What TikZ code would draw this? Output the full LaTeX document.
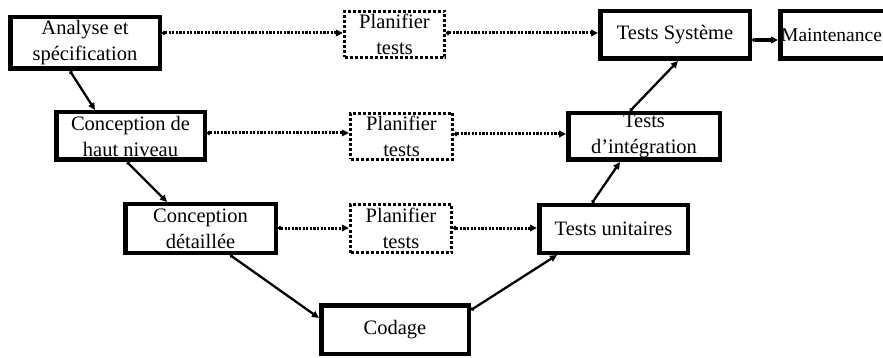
\documentclass[tikz,border=0pt]{standalone}
\usepackage{fontspec}
\setmainfont{Liberation Serif}
\usetikzlibrary{arrows.meta}
\begin{document}
\begin{tikzpicture}[x=1pt,y=-1pt,
  every node/.style={font=\fontsize{20.5}{26}\selectfont, align=center, inner sep=0pt},
  phase/.style={draw, line width=4.5pt, minimum width=#1},
  planbox/.style={draw, line width=3.2pt, dash pattern=on 3pt off 2pt, minimum width=#1},
  flow/.style={line width=2.3pt, {Circle[length=3.5pt]}-{Triangle[length=7pt,width=6.5pt]}},
  plan/.style={line width=3pt, dash pattern=on 2.2pt off 1.4pt, {Circle[length=4pt]}-{Triangle[length=7pt,width=6.5pt]}}
]
\useasboundingbox (0,0) rectangle (883,358);
\fill[white] (0,0) rectangle (883,358);

% development phases (left branch of the V)
\node[phase=149.5pt, minimum height=51.5pt] (ana) at (85,43) {Analyse et\\spécification};
\node[phase=148.5pt, minimum height=47.5pt] (chn) at (130.5,136) {Conception de\\haut niveau};
\node[phase=150.5pt, minimum height=48.5pt] (cd)  at (200.5,228.5) {Conception\\détaillée};
\node[phase=147.5pt, minimum height=48.5pt] (cod) at (395,329.5) {Codage};

% test phases (right branch of the V)
\node[phase=148.5pt, minimum height=47.5pt] (tu) at (613.5,229) {Tests unitaires};
\node[phase=151.5pt, minimum height=46.5pt] (ti) at (644,136.5) {Tests\\d’intégration};
\node[phase=149.5pt, minimum height=47.5pt] (ts) at (675,35) {Tests Système};
% maintenance box runs past the right edge; its label sits against the left side
\node[phase=107.5pt, minimum height=47.5pt] (mt) at (834,35) {};
\node[font=\fontsize{19.5}{26}\selectfont, anchor=west] (mtlabel) at (781,35.5) {Maintenance};

% test planning boxes
\node[planbox=100pt, minimum height=46pt] (p1) at (394.5,34.5) {Planifier\\tests};
\node[planbox=102pt, minimum height=46pt] (p2) at (401.5,136.5) {Planifier\\tests};
\node[planbox=101pt, minimum height=48pt] (p3) at (401,228.5) {Planifier\\tests};

% main flow
\draw[flow] ([xshift=-15pt]ana.south) -- ([xshift=-35.5pt]chn.north);
\draw[flow] ([xshift=-3.5pt]chn.south) -- ([xshift=-33.5pt]cd.north);
\draw[flow] ([xshift=29.5pt]cd.south) -- ([yshift=11.5pt]cod.west);
\draw[flow] ([yshift=19.5pt]cod.east) -- ([xshift=-56.5pt]tu.south);
\draw[flow] ([xshift=-21.5pt]tu.north) -- ([xshift=-24pt]ti.south);
\draw[flow] ([xshift=-14pt]ti.north) -- ([xshift=3pt]ts.south);
\draw[flow, line width=4pt] (ts.east |- 0,40) -- (mt.west |- 0,40);

% planning links
\draw[plan] (ana.east |- 0,33) -- (p1.west |- 0,33);
\draw[plan] (p1.east |- 0,33) -- (ts.west |- 0,33);
\draw[plan] (chn.east |- 0,133) -- (p2.west |- 0,133);
\draw[plan] (p2.east |- 0,134) -- (ti.west |- 0,134);
\draw[plan] (cd.east |- 0,228) -- (p3.west |- 0,228);
\draw[plan] (p3.east |- 0,228) -- (tu.west |- 0,228);
\end{tikzpicture}
\end{document}
